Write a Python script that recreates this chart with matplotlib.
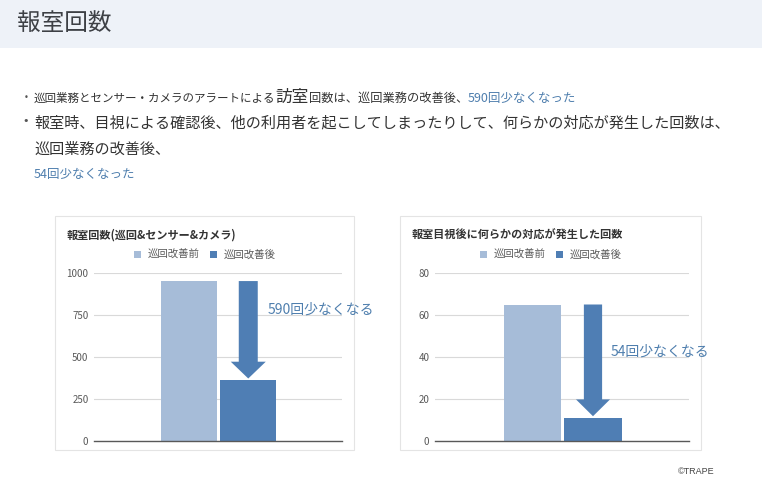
import matplotlib
matplotlib.use("Agg")
import matplotlib.pyplot as plt
from matplotlib.patches import Rectangle, Patch
import numpy as np

plt.rcParams['font.family'] = ['Noto Sans CJK JP', 'DejaVu Sans']

W, H = 762, 495

# --- data ---
page_title = "報室回数"
series_labels = ["巡回改善前", "巡回改善後"]

chart1_title = "報室回数(巡回&センサー&カメラ)"
chart1_values = [952, 362]
chart1_ticks = [0, 250, 500, 750, 1000]
chart1_note = "590回少なくなる"

chart2_title = "報室目視後に何らかの対応が発生した回数"
chart2_values = [65, 11]
chart2_ticks = [0, 20, 40, 60, 80]
chart2_note = "54回少なくなる"

# bullet text pieces: (text, size, colour)
line1 = [("巡回業務とセンサー・カメラのアラートによる", 8.3, "#333333"),
         ("訪室", 12, "#333333"),
         ("回数は、巡回業務の改善後、", 8.8, "#333333"),
         ("590回少なくなった", 9, "#4f7fae")]
line2 = "報室時、目視による確認後、他の利用者を起こしてしまったりして、何らかの対応が発生した回数は、"
line3 = "巡回業務の改善後、"
line4 = "54回少なくなった"

before_col = "#a6bcd8"
after_col = "#4f7eb4"
note_col = "#4f7fae"

fig = plt.figure(figsize=(W / 100, H / 100), dpi=100)
bg = fig.add_axes([0, 0, 1, 1], zorder=0)
bg.set_xlim(0, W)
bg.set_ylim(H, 0)
bg.axis("off")

# header band
bg.add_patch(Rectangle((0, 0), W, 48, facecolor="#eef2f8", edgecolor="none"))
bg.text(17, 23, page_title, fontsize=17, color="#3d4045", va="center")

renderer = fig.canvas.get_renderer()

# bullet lines
bg.text(26, 98, "•", fontsize=6, color="#555555", va="center", ha="center",
        family="DejaVu Sans")
x = 34
for txt, fs, col in line1:
    t = bg.text(x, 102, txt, fontsize=fs, color=col, va="baseline")
    x += t.get_window_extent(renderer).width

bg.text(26, 121, "•", fontsize=8, color="#555555", va="center", ha="center",
        family="DejaVu Sans")
bg.text(34, 127, line2, fontsize=10.9, color="#333333", va="baseline")
bg.text(34, 154, line3, fontsize=10.9, color="#333333", va="baseline")
bg.text(34, 178, line4, fontsize=9, color=note_col, va="baseline")

bg.text(714, 472, "©TRAPE", fontsize=6.5, color="#444444", ha="right",
        va="center", family="Liberation Sans")


def px_axes(left, top, right, bottom):
    return fig.add_axes([left / W, 1 - bottom / H, (right - left) / W,
                         (bottom - top) / H], zorder=2)


def card(left, top, right, bottom):
    bg.add_patch(Rectangle((left + 1, top + 1), right - left, bottom - top,
                           facecolor="#ebebeb", edgecolor="none"))
    bg.add_patch(Rectangle((left, top), right - left, bottom - top,
                           facecolor="white", edgecolor="#e4e4e4", lw=0.8))


def bar_chart(card_box, ax_box, title, values, ticks, note, note_xy,
              shaft, head_w):
    cl, ct, cr, cb = card_box
    card(cl, ct, cr, cb)
    ax = px_axes(*ax_box)
    ax.set_facecolor("none")
    xs = np.arange(len(values))
    for xi, v, c, lab in zip(xs, values, [before_col, after_col], series_labels):
        ax.bar(xi, v, width=0.94, color=c, label=lab, zorder=2)
    ymax = ticks[-1]
    ax.set_ylim(0, ymax)
    ax.set_xlim(-1.6, 2.58)
    ax.set_yticks(ticks)
    ax.tick_params(axis="y", length=0, pad=4, labelsize=7, labelcolor="#595959")
    ax.set_xticks([])
    ax.grid(axis="y", color="#d9d9d9", lw=0.8, zorder=0)
    for s in ["top", "right", "left"]:
        ax.spines[s].set_visible(False)
    ax.spines["bottom"].set_color("#595959")
    ax.spines["bottom"].set_linewidth(1.0)
    ax.spines["bottom"].set_zorder(3)

    # reduction arrow
    top_v, low_v = values[0], values[1]
    ax.arrow(xs[1], top_v, 0, -(top_v - low_v - 0.01 * ymax), width=shaft,
             head_width=head_w, head_length=0.10 * ymax,
             length_includes_head=True, color=after_col, lw=0, zorder=3)
    ax.text(note_xy[0], note_xy[1], note, transform=ax.transAxes,
            fontsize=10, color=note_col, va="center", ha="left")

    bg.text(cl + 12, 235, title, fontsize=8, fontweight="bold",
            color="#333333", va="center")
    leg = ax.legend(handles=[Patch(facecolor=before_col), Patch(facecolor=after_col)],
                    labels=series_labels, ncol=2, frameon=False,
                    loc="center", bbox_to_anchor=((cl + cr) / 2 / W, 1 - 255 / H),
                    bbox_transform=fig.transFigure, fontsize=7.5,
                    handlelength=0.67, handleheight=0.67, handletextpad=0.65,
                    columnspacing=1.0)
    for t in leg.get_texts():
        t.set_color("#595959")
    return ax


bar_chart((55, 216, 354, 450), (94, 273, 342, 441), chart1_title,
          chart1_values, chart1_ticks, chart1_note, (0.70, 0.78), 0.32, 0.59)
bar_chart((400, 216, 701, 450), (435, 273, 689, 441), chart2_title,
          chart2_values, chart2_ticks, chart2_note, (0.69, 0.53), 0.30, 0.56)

fig.savefig("out.png", dpi=100)
